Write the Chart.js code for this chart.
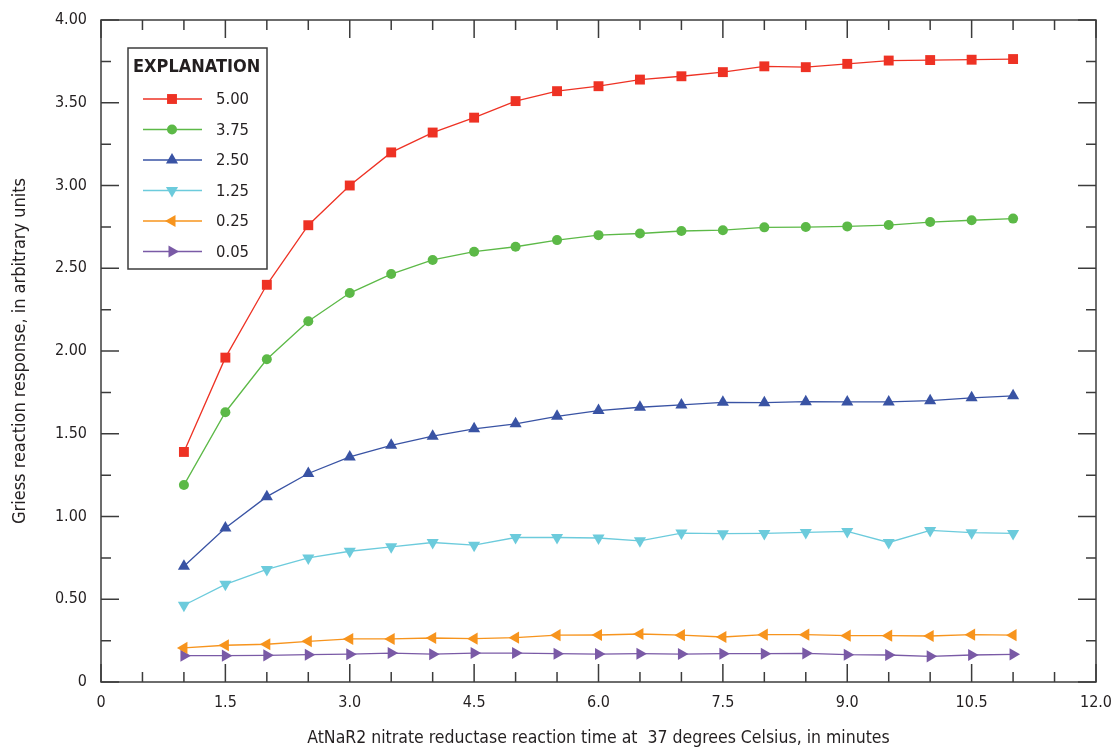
<!DOCTYPE html>
<html>
<head>
<meta charset="utf-8">
<script src="https://cdn.jsdelivr.net/npm/chart.js@4.4.0/dist/chart.umd.min.js"></script>
<style>
  html, body { margin: 0; padding: 0; background: #fff; }
  #wrap { width: 1112px; height: 749px; }
</style>
</head>
<body>
<div id="wrap"><canvas id="graficoGriess" width="1112" height="749"></canvas></div>
<script>
// tiempos de reaccion (minutos)
const tiempos = [1, 1.5, 2, 2.5, 3, 3.5, 4, 4.5, 5, 5.5, 6, 6.5, 7, 7.5, 8, 8.5, 9, 9.5, 10, 10.5, 11];

// respuesta Griess por concentracion de nitrato
const serie500 = [1.39, 1.96, 2.40, 2.76, 3.00, 3.20, 3.32, 3.41, 3.51, 3.57, 3.60, 3.64, 3.66, 3.685, 3.72, 3.715, 3.735, 3.755, 3.758, 3.76, 3.764];
const serie375 = [1.19, 1.63, 1.95, 2.18, 2.35, 2.465, 2.55, 2.60, 2.63, 2.67, 2.70, 2.71, 2.725, 2.73, 2.747, 2.749, 2.753, 2.761, 2.779, 2.79, 2.80];
const serie250 = [0.70, 0.93, 1.12, 1.26, 1.36, 1.43, 1.485, 1.53, 1.56, 1.605, 1.64, 1.66, 1.674, 1.69, 1.688, 1.694, 1.692, 1.692, 1.70, 1.717, 1.729];
const serie125 = [0.464, 0.59, 0.68, 0.75, 0.79, 0.817, 0.843, 0.827, 0.873, 0.873, 0.87, 0.853, 0.90, 0.896, 0.898, 0.904, 0.91, 0.843, 0.916, 0.902, 0.898];
const serie025 = [0.206, 0.222, 0.228, 0.246, 0.26, 0.26, 0.266, 0.262, 0.268, 0.283, 0.284, 0.29, 0.283, 0.272, 0.286, 0.286, 0.28, 0.28, 0.278, 0.286, 0.283];
const serie005 = [0.159, 0.159, 0.161, 0.165, 0.168, 0.175, 0.168, 0.175, 0.175, 0.171, 0.169, 0.171, 0.169, 0.171, 0.171, 0.173, 0.165, 0.163, 0.155, 0.163, 0.167];

const etiquetas = ['5.00', '3.75', '2.50', '1.25', '0.25', '0.05'];

const fuente = "'Liberation Sans Narrow', 'DejaVu Sans Condensed', 'Arial Narrow', sans-serif";
const colorTexto = '#231f20';
const colorEje = '#3c3c3c';

function armarSerie(label, valores, color, estilo, giro, radio) {
    return {
        label: label,
        data: tiempos.map((t, i) => ({ x: t, y: valores[i] })),
        borderColor: color,
        backgroundColor: color,
        borderWidth: 1.3,
        pointStyle: estilo,
        pointRotation: giro,
        pointRadius: radio,
        pointBorderWidth: 0,
        pointHoverRadius: radio,
        tension: 0
    };
}

// marco y marcas de escala hacia adentro en los cuatro lados
const marcoPlugin = {
    id: 'marco',
    beforeDatasetsDraw(chart) {
        const { ctx, chartArea: a, scales: { x, y } } = chart;
        ctx.save();
        ctx.strokeStyle = colorEje;
        ctx.lineWidth = 1.5;
        ctx.strokeRect(a.left, a.top, a.right - a.left, a.bottom - a.top);
        ctx.beginPath();
        for (let i = 0; i <= 24; i++) {
            const px = x.getPixelForValue(i * 0.5);
            const len = i % 3 === 0 ? 18 : 10;
            ctx.moveTo(px, a.bottom); ctx.lineTo(px, a.bottom - len);
            ctx.moveTo(px, a.top); ctx.lineTo(px, a.top + len);
        }
        for (let i = 0; i <= 16; i++) {
            const py = y.getPixelForValue(i * 0.25);
            const len = i % 2 === 0 ? 18 : 10;
            ctx.moveTo(a.left, py); ctx.lineTo(a.left + len, py);
            ctx.moveTo(a.right, py); ctx.lineTo(a.right - len, py);
        }
        ctx.stroke();
        ctx.restore();
    }
};

// cuadro EXPLANATION
const explicacionPlugin = {
    id: 'explicacion',
    afterDraw(chart) {
        const ctx = chart.ctx;
        ctx.save();
        ctx.fillStyle = '#fff';
        ctx.fillRect(128, 48, 139, 221);
        ctx.strokeStyle = colorEje;
        ctx.lineWidth = 1.5;
        ctx.strokeRect(128, 48, 139, 221);
        ctx.fillStyle = colorTexto;
        ctx.font = 'bold 18px ' + fuente;
        ctx.textBaseline = 'middle';
        ctx.fillText('EXPLANATION', 133, 67);
        chart.data.datasets.forEach((ds, i) => {
            const yy = 99 + i * 30.5;
            ctx.strokeStyle = ds.borderColor;
            ctx.lineWidth = 1.3;
            ctx.beginPath();
            ctx.moveTo(143, yy); ctx.lineTo(202, yy);
            ctx.stroke();
            ctx.fillStyle = ds.backgroundColor;
            Chart.helpers.drawPoint(ctx, {
                pointStyle: ds.pointStyle, rotation: ds.pointRotation,
                radius: ds.pointRadius, borderWidth: 0
            }, 172, yy);
            ctx.fillStyle = colorTexto;
            ctx.font = '16.5px ' + fuente;
            ctx.fillText(ds.label, 216, yy + 1);
        });
        ctx.restore();
    }
};

const ctx = document.getElementById('graficoGriess').getContext('2d');
new Chart(ctx, {
    type: 'line',
    data: {
        datasets: [
            armarSerie(etiquetas[0], serie500, '#ee3224', 'rect', 0, 7),
            armarSerie(etiquetas[1], serie375, '#5cb947', 'circle', 0, 5),
            armarSerie(etiquetas[2], serie250, '#3953a4', 'triangle', 0, 7),
            armarSerie(etiquetas[3], serie125, '#6ccbdc', 'triangle', 180, 7),
            armarSerie(etiquetas[4], serie025, '#f7941d', 'triangle', 270, 7),
            armarSerie(etiquetas[5], serie005, '#7a5aa6', 'triangle', 90, 7)
        ]
    },
    options: {
        responsive: false,
        devicePixelRatio: 1,
        animation: false,
        layout: { padding: { top: 20, right: 16, left: 0, bottom: 0 } },
        plugins: {
            legend: { display: false },
            tooltip: { enabled: false }
        },
        scales: {
            x: {
                type: 'linear',
                min: 0,
                max: 12,
                grid: { display: false, drawTicks: false },
                border: { display: false },
                ticks: {
                    stepSize: 1.5,
                    padding: 11,
                    color: colorTexto,
                    font: { family: fuente, size: 16 },
                    maxRotation: 0,
                    callback: v => v === 0 ? '0' : v.toFixed(1)
                },
                title: {
                    display: true,
                    text: 'AtNaR2 nitrate reductase reaction time at  37 degrees Celsius, in minutes',
                    color: colorTexto,
                    font: { family: fuente, size: 17.5 },
                    padding: { top: 0, bottom: 0 }
                },
                afterFit: s => {
                    s.height = 67;
                    s.paddingLeft = 0;
                    s.paddingRight = 0;
                }
            },
            y: {
                min: 0,
                max: 4,
                grid: { display: false, drawTicks: false },
                border: { display: false },
                ticks: {
                    stepSize: 0.5,
                    padding: 14,
                    color: colorTexto,
                    font: { family: fuente, size: 16 },
                    callback: v => v === 0 ? '0' : v.toFixed(2)
                },
                title: {
                    display: true,
                    text: 'Griess reaction response, in arbitrary units',
                    color: colorTexto,
                    font: { family: fuente, size: 18 },
                    padding: { top: 10, bottom: 0 }
                },
                afterFit: s => {
                    s.width = 101;
                    s.paddingTop = 0;
                    s.paddingBottom = 0;
                }
            }
        }
    },
    plugins: [marcoPlugin, explicacionPlugin]
});
</script>
</body>
</html>
